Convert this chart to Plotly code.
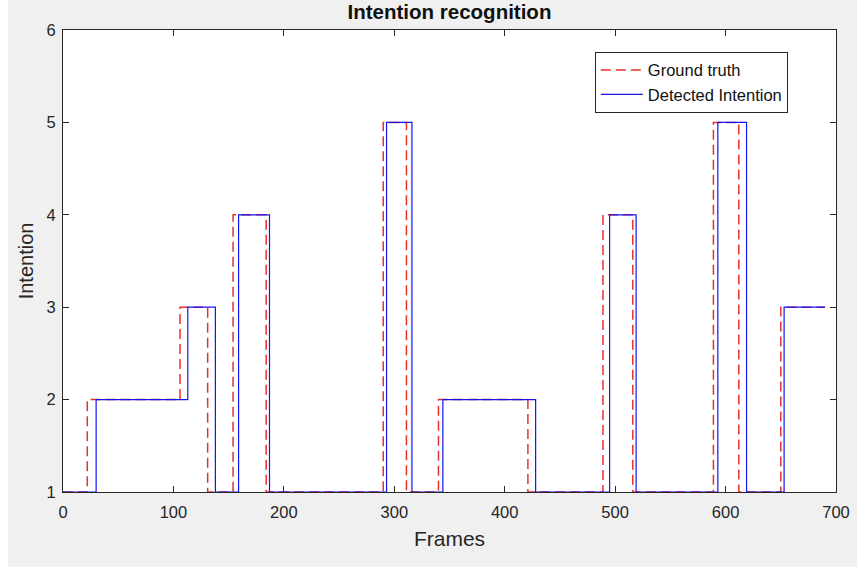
import plotly.graph_objects as go

# Ground truth: frame where each segment starts, and its intention level
gt_frames = [0, 22, 106, 131, 154, 184, 290, 311, 340, 421, 489, 516, 589, 612, 650, 690]
gt_levels = [1, 2, 3, 1, 4, 1, 5, 1, 2, 1, 4, 1, 5, 1, 3, 3]

# Detected intention
det_frames = [0, 30, 113, 138, 159, 187, 293, 316, 344, 428, 495, 519, 593, 619, 653, 690]
det_levels = [1, 2, 3, 1, 4, 1, 5, 1, 2, 1, 4, 1, 5, 1, 3, 3]

x_ticks = [0, 100, 200, 300, 400, 500, 600, 700]
y_ticks = [1, 2, 3, 4, 5, 6]

font_family = "Liberation Sans, Arial, sans-serif"
W, H = 857, 567
ML, MR, MT, MB = 63, 21, 30, 75

fig = go.Figure()
fig.add_trace(go.Scatter(
    x=gt_frames, y=gt_levels, mode="lines", name="Ground truth",
    line=dict(color="#e8302f", width=1.5, dash="10px,5px", shape="hv"),
))
fig.add_trace(go.Scatter(
    x=det_frames, y=det_levels, mode="lines", name="Detected Intention",
    line=dict(color="#1515f0", width=1.2, shape="hv"),
))

axis_common = dict(
    showline=True, linecolor="#262626", linewidth=1, mirror="ticks",
    ticks="inside", ticklen=6, tickcolor="#262626", tickwidth=1,
    showgrid=False, zeroline=False, automargin=False,
    tickfont=dict(family=font_family, size=16.5, color="#262626"),
)

pw = W - ML - MR
# white strip along the left edge of the picture
fig.add_shape(type="rect", xref="paper", yref="paper",
              x0=(0 - ML) / pw, x1=(8 - ML) / pw, y0=-1, y1=2,
              fillcolor="white", line=dict(width=0), layer="below")

fig.update_layout(
    width=W, height=H,
    margin=dict(l=ML, r=MR, t=MT, b=MB),
    paper_bgcolor="#f0f0f0", plot_bgcolor="white",
    title=dict(text="<b>Intention recognition</b>", xref="paper", x=0.5, xanchor="center",
               y=0.98, yanchor="middle", automargin=False,
               font=dict(family=font_family, size=20.5, color="#111111")),
    xaxis=dict(range=[0, 700], tickvals=x_ticks, ticklabelstandoff=5,
               title=dict(text="Frames", standoff=11,
                          font=dict(family=font_family, size=21, color="#262626")),
               **axis_common),
    yaxis=dict(range=[1, 6], tickvals=y_ticks, ticklabelstandoff=3,
               title=dict(text="Intention", standoff=7,
                          font=dict(family=font_family, size=20, color="#262626")),
               **axis_common),
    legend=dict(x=0.688, y=0.953, xanchor="left", yanchor="top",
                bgcolor="white", bordercolor="#262626", borderwidth=1,
                font=dict(family=font_family, size=16.5, color="#111111"),
                tracegroupgap=0, itemwidth=42, entrywidth=164, entrywidthmode="pixels"),
    showlegend=True,
)

fig.write_html("out.html", config={"displayModeBar": False},
               post_script="document.body.style.margin='0';document.body.style.overflow='hidden';")
